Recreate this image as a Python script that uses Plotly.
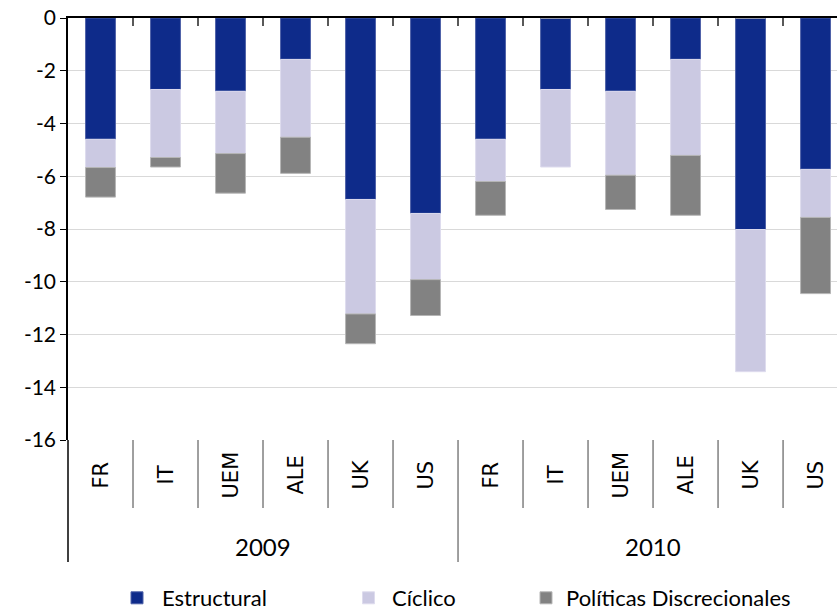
import plotly.graph_objects as go

# Budget balance decomposition (% of GDP), stacked by component
years = ["2009", "2010"]
countries = ["FR", "IT", "UEM", "ALE", "UK", "US"]

estructural = [-4.60, -2.71, -2.78, -1.57, -6.88, -7.41,
               -4.60, -2.71, -2.78, -1.57, -8.02, -5.74]
ciclico = [-1.07, -2.58, -2.36, -2.95, -4.34, -2.51,
           -1.60, -2.94, -3.18, -3.64, -5.39, -1.82]
politicas = [-1.12, -0.36, -1.50, -1.37, -1.13, -1.36,
             -1.28, 0.00, -1.30, -2.27, 0.00, -2.89]

y_ticks = [0, -2, -4, -6, -8, -10, -12, -14, -16]
y_tick_text = ["0", "-2", "-4", "-6", "-8", "-10", "-12", "-14", "-16"]

series = [
    ("Estructural", estructural, "#0e2b8a", "#4f62a8", "legend"),
    ("Cíclico", ciclico, "#cbc9e2", "#dedcee", "legend2"),
    ("Políticas Discrecionales", politicas, "#828282", "#b5b5b5", "legend3"),
]

cats = [(y, c) for y in years for c in countries]
pos = list(range(len(cats)))

fig = go.Figure()
for name, vals, col, edge, leg in series:
    fig.add_trace(go.Bar(
        x=pos, y=vals, name=name, legend=leg,
        marker=dict(color=col, line=dict(color=edge, width=1)),
    ))

W, H = 837, 612
ML, MR, MT, MB = 68, 0, 18, 172
plot_h = H - MT - MB

def py(px_y):
    """pixel row below the plot -> paper y"""
    return -(px_y - (H - MB)) / plot_h

n = len(cats)
per_year = len(countries)

shapes = []
# category separators below the plot
for i in range(n - 1):
    year_edge = (i + 1) % per_year == 0
    shapes.append(dict(type="line", xref="x", yref="paper",
                       x0=i + 0.5, x1=i + 0.5, y0=0,
                       y1=py(562) if year_edge else py(508),
                       line=dict(color="#404040", width=1)))
# left border of the label table
shapes.append(dict(type="line", xref="paper", yref="paper",
                   x0=0, x1=0, y0=0, y1=py(562),
                   line=dict(color="#000000", width=1.5)))

annotations = []
for i, (yr, c) in enumerate(cats):
    annotations.append(dict(x=i, y=py(475), xref="x", yref="paper",
                            text=c, textangle=-90, showarrow=False,
                            xanchor="center", yanchor="middle",
                            font=dict(family="DejaVu Sans", size=21, color="#000000")))
for k, yr in enumerate(years):
    annotations.append(dict(x=k * per_year + (per_year - 1) / 2, y=py(546),
                            xref="x", yref="paper", text=yr, showarrow=False,
                            xanchor="center", yanchor="middle",
                            font=dict(family="Lato", size=24, color="#000000")))

leg_font = dict(family="Lato", size=22, color="#000000")
def legend_at(x_px, item_w):
    return dict(orientation="h", xref="container", yref="container",
                x=x_px / W, y=1 - 598 / H, xanchor="left", yanchor="middle",
                font=leg_font, bgcolor="rgba(0,0,0,0)", itemclick=False,
                itemwidth=item_w)

fig.update_layout(
    width=W, height=H,
    margin=dict(l=ML, r=MR, t=MT, b=MB),
    paper_bgcolor="white", plot_bgcolor="white",
    barmode="relative", bargap=0.54,
    showlegend=True,
    legend=legend_at(112, 40),
    legend2=legend_at(345, 37),
    legend3=legend_at(526, 30),
    xaxis=dict(range=[-0.5, 11.33], side="top", showline=True,
               linecolor="#000000", linewidth=1.5,
               ticks="inside", ticklen=8, tickcolor="#595959", tickwidth=1.5,
               tickvals=[i + 0.5 for i in range(n - 1)],
               showticklabels=False, showgrid=False, zeroline=False),
    yaxis=dict(range=[-16, 0], tickvals=y_ticks, ticktext=y_tick_text,
               showline=True, linecolor="#000000", linewidth=1.5,
               ticks="outside", ticklen=6, tickcolor="#000000",
               gridcolor="#d9d9d9", gridwidth=1, zeroline=False,
               tickfont=dict(family="Lato", size=21, color="#000000")),
    shapes=shapes, annotations=annotations,
)

fig.write_html("out.html")
